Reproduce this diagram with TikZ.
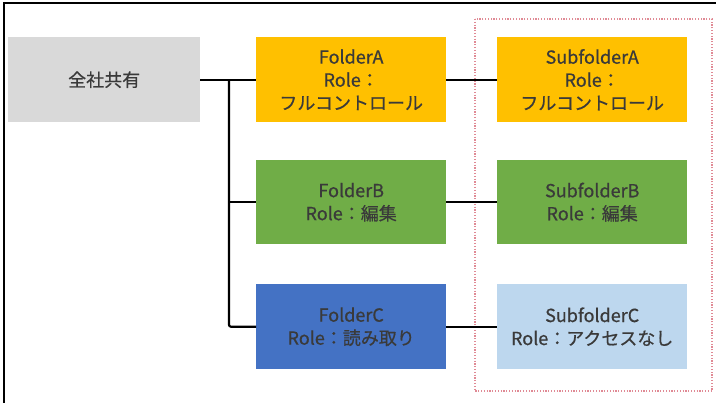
\documentclass[tikz,border=0pt]{standalone}
\usepackage{fontspec}
\setmainfont{Noto Sans CJK JP}[FakeBold=0.6]
\definecolor{txt}{HTML}{3A3A3A}
\definecolor{grayf}{HTML}{D9D9D9}
\definecolor{yel}{HTML}{FFC000}
\definecolor{grn}{HTML}{70AD47}
\definecolor{blu}{HTML}{4472C4}
\definecolor{lblu}{HTML}{BDD7EE}
\definecolor{dotred}{HTML}{E08A95}
\begin{document}
\begin{tikzpicture}[x=1pt,y=-1pt,
  box/.style={rectangle, minimum width=190pt, minimum height=85pt, inner sep=0pt,
    align=center, text=txt, font=\fontsize{18}{23}\selectfont, anchor=north west},
  link/.style={line width=2.2pt, black},
]
\useasboundingbox (0,0) rectangle (716,403);
% screenshot frame
\draw[line width=2.8pt] (4,403) -- (4,3) -- (716,3);
% dotted group
\draw[dotred, line width=1.3pt, dash pattern=on 1.2pt off 1.6pt] (475,19) rectangle (712,391);
% boxes
\node[box, fill=grayf, minimum width=192pt] (g) at (8,37) {全社共有};
\node[box, fill=yel] (fa) at (256,37) {FolderA\\Role：\\フルコントロール};
\node[box, fill=yel] (sa) at (497,37) {SubfolderA\\Role：\\フルコントロール};
\node[box, fill=grn, minimum height=84pt] (fb) at (256,160) {FolderB\\Role：編集};
\node[box, fill=grn, minimum height=84pt] (sb) at (497,160) {SubfolderB\\Role：編集};
\node[box, fill=blu] (fc) at (256,284) {FolderC\\Role：読み取り};
\node[box, fill=lblu] (sc) at (497,284) {SubfolderC\\Role：アクセスなし};
% connectors
\coordinate (j) at (229,79.5);
\draw[link] (g.east) -- (fa.west);
\draw[link, rounded corners=2pt] (j) |- (fc.west);
\draw[link] (j |- fb.west) -- (fb.west);
\draw[link] (fa.east) -- (sa.west);
\draw[link] (fb.east) -- (sb.west);
\draw[link] (fc.east) -- (sc.west);
\end{tikzpicture}
\end{document}
